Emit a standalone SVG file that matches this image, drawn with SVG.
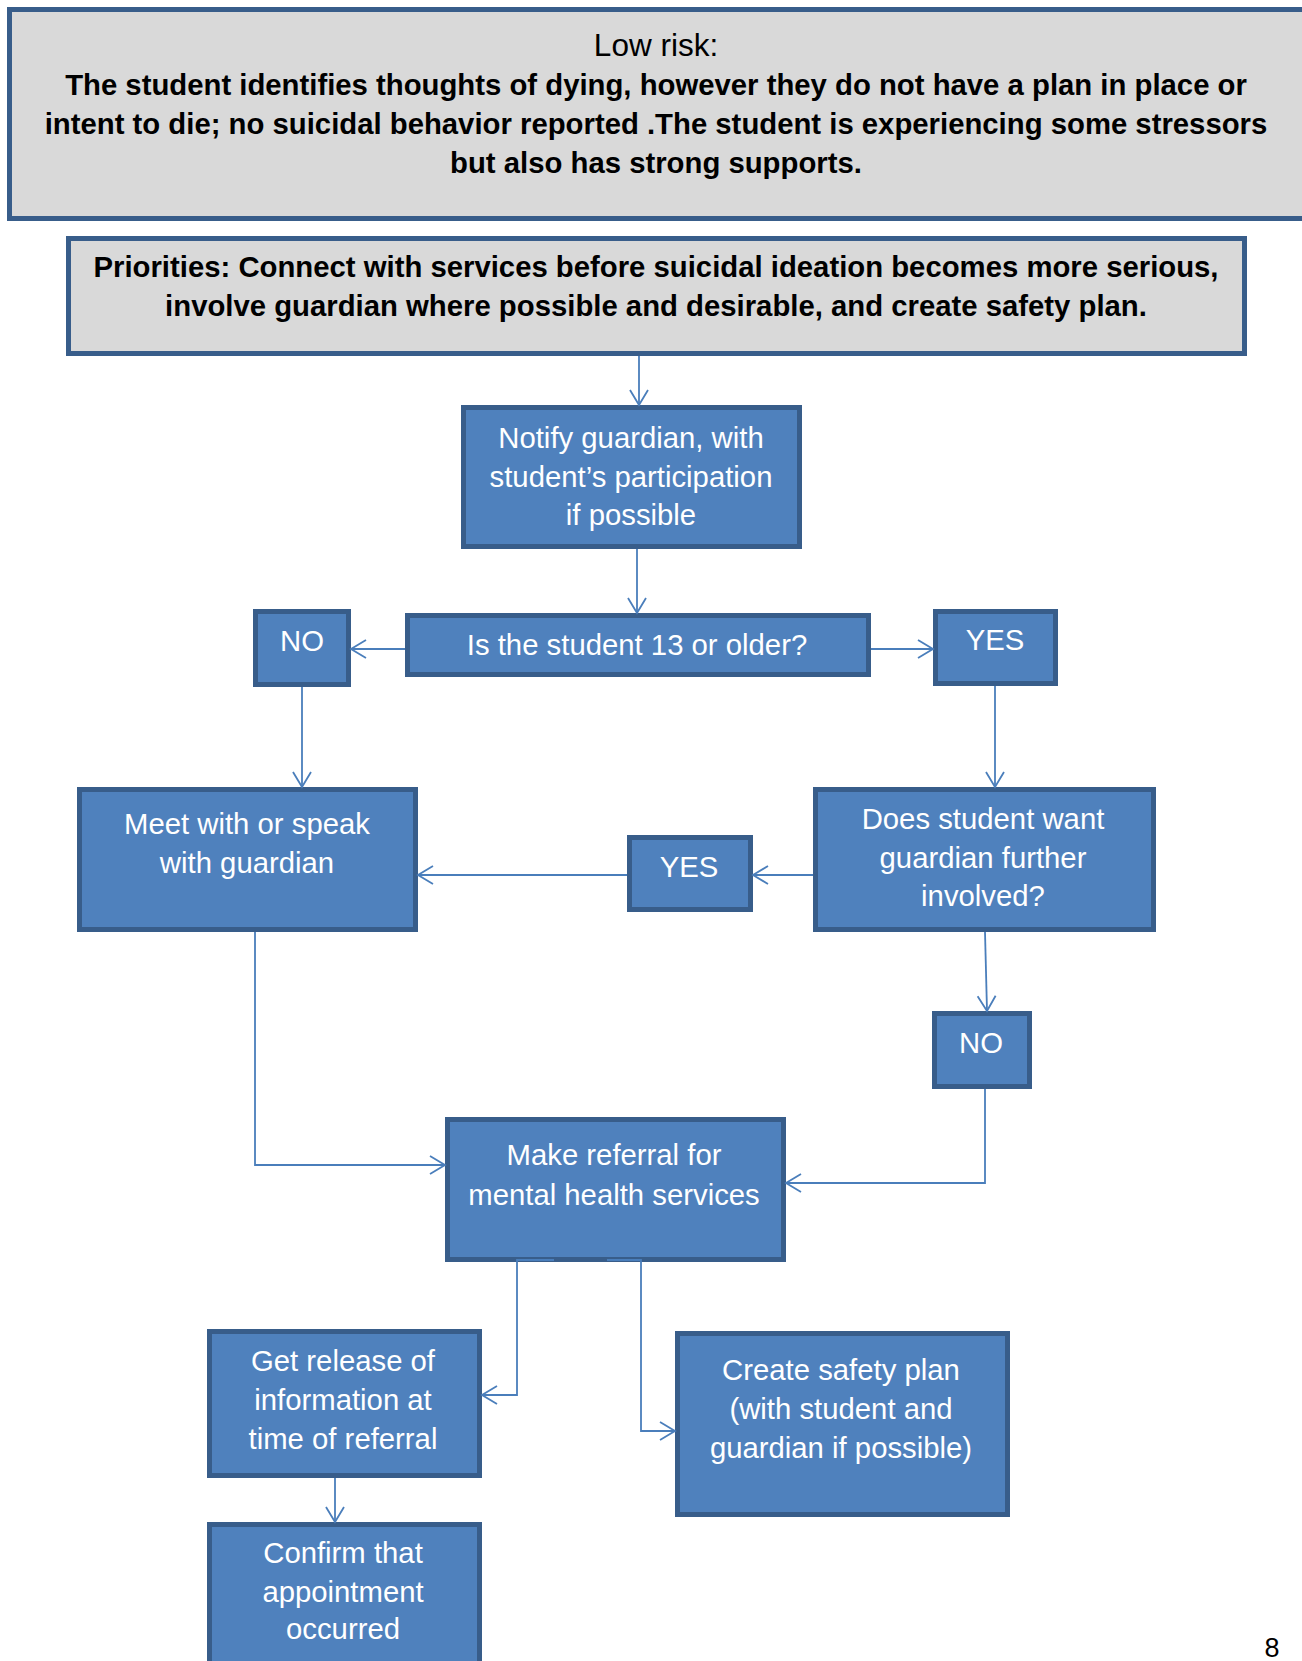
<svg xmlns="http://www.w3.org/2000/svg" width="1302" height="1661" viewBox="0 0 1302 1661">
<defs>
<style>
.hdr{fill:#D9D9D9;stroke:#385D8A;stroke-width:5}
.box{fill:#4F81BD;stroke:#385D8A;stroke-width:5}
.t{font-family:"Liberation Sans",Arial,sans-serif;font-size:29.3px;fill:#FFFFFF;text-anchor:middle}
.h{font-family:"Liberation Sans",Arial,sans-serif;font-size:29.3px;fill:#000000;text-anchor:middle}
.hb{font-weight:bold}
.c{fill:none;stroke:#4A7EBB;stroke-width:1.8}
</style>
<marker id="arr" markerUnits="userSpaceOnUse" viewBox="0 0 16 20" refX="15" refY="10" markerWidth="16" markerHeight="20" orient="auto" overflow="visible">
<path d="M0,1 L15,10 L0,19" fill="none" stroke="#4A7EBB" stroke-width="1.8"/>
</marker>
</defs>
<rect width="1302" height="1661" fill="#FFFFFF"/>

<g id="lowrisk">
<rect class="hdr" x="9.5" y="9.5" width="1300" height="209"/>
<text class="h" x="656" y="56" style="font-size:31.5px">Low risk:</text>
<text class="h hb" x="656" y="95">The student identifies thoughts of dying, however they do not have a plan in place or</text>
<text class="h hb" x="656" y="134">intent to die; no suicidal behavior reported .The student is experiencing some stressors</text>
<text class="h hb" x="656" y="173">but also has strong supports.</text>
</g>

<g id="priorities">
<rect class="hdr" x="68.5" y="238.5" width="1176" height="115"/>
<text class="h hb" x="656" y="277">Priorities: Connect with services before suicidal ideation becomes more serious,</text>
<text class="h hb" x="656" y="316">involve guardian where possible and desirable, and create safety plan.</text>
</g>

<g id="notify">
<rect class="box" x="463.5" y="407.5" width="336" height="139"/>
<text class="t" x="631" y="448">Notify guardian, with</text>
<text class="t" x="631" y="487">student’s participation</text>
<text class="t" x="631" y="525">if possible</text>
</g>

<g id="age">
<rect class="box" x="407.5" y="615.5" width="461" height="59"/>
<text class="t" x="637" y="655">Is the student 13 or older?</text>
</g>

<g id="no1">
<rect class="box" x="255.5" y="611.5" width="93" height="73"/>
<text class="t" x="302" y="651">NO</text>
</g>

<g id="yes1">
<rect class="box" x="935.5" y="611.5" width="120" height="72"/>
<text class="t" x="995" y="650">YES</text>
</g>

<g id="meet">
<rect class="box" x="79.5" y="789.5" width="336" height="140"/>
<text class="t" x="247" y="834">Meet with or speak</text>
<text class="t" x="247" y="873">with guardian</text>
</g>

<g id="yes2">
<rect class="box" x="629.5" y="837.5" width="121" height="72"/>
<text class="t" x="689" y="877">YES</text>
</g>

<g id="does">
<rect class="box" x="815.5" y="789.5" width="338" height="140"/>
<text class="t" x="983" y="829">Does student want</text>
<text class="t" x="983" y="868">guardian further</text>
<text class="t" x="983" y="906">involved?</text>
</g>

<g id="no2">
<rect class="box" x="934.5" y="1013.5" width="95" height="73"/>
<text class="t" x="981" y="1053">NO</text>
</g>

<g id="referral">
<rect class="box" x="447.5" y="1119.5" width="336" height="140"/>
<text class="t" x="614" y="1165">Make referral for</text>
<text class="t" x="614" y="1205">mental health services</text>
</g>

<g id="release">
<rect class="box" x="209.5" y="1331.5" width="270" height="144"/>
<text class="t" x="343" y="1371">Get release of</text>
<text class="t" x="343" y="1410">information at</text>
<text class="t" x="343" y="1449">time of referral</text>
</g>

<g id="confirm">
<rect class="box" x="209.5" y="1524.5" width="270" height="150"/>
<text class="t" x="343" y="1563">Confirm that</text>
<text class="t" x="343" y="1602">appointment</text>
<text class="t" x="343" y="1639">occurred</text>
</g>

<g id="safety">
<rect class="box" x="677.5" y="1333.5" width="330" height="181"/>
<text class="t" x="841" y="1380">Create safety plan</text>
<text class="t" x="841" y="1419">(with student and</text>
<text class="t" x="841" y="1458">guardian if possible)</text>
</g>

<text x="1272" y="1657" style="font-family:'Liberation Sans',Arial,sans-serif;font-size:27px;fill:#000;text-anchor:middle">8</text>

<g id="connectors">
<path class="c" d="M639,356 L639,405" marker-end="url(#arr)"/>
<path class="c" d="M637,549 L637,613" marker-end="url(#arr)"/>
<path class="c" d="M405,649 L351,649" marker-end="url(#arr)"/>
<path class="c" d="M871,649 L933,649" marker-end="url(#arr)"/>
<path class="c" d="M302,687 L302,787" marker-end="url(#arr)"/>
<path class="c" d="M995,686 L995,787" marker-end="url(#arr)"/>
<path class="c" d="M813,875 L753,875" marker-end="url(#arr)"/>
<path class="c" d="M627,875 L418,875" marker-end="url(#arr)"/>
<path class="c" d="M985,932 L987,1011" marker-end="url(#arr)"/>
<path class="c" d="M255,932 L255,1165 L445,1165" marker-end="url(#arr)"/>
<path class="c" d="M985,1089 L985,1183 L786,1183" marker-end="url(#arr)"/>
<path class="c" d="M554,1260 L517,1260 L517,1395 L482,1395" marker-end="url(#arr)"/>
<path class="c" d="M607,1260 L641,1260 L641,1431 L675,1431" marker-end="url(#arr)"/>
<path class="c" d="M335,1478 L335,1522" marker-end="url(#arr)"/>
</g>
</svg>
